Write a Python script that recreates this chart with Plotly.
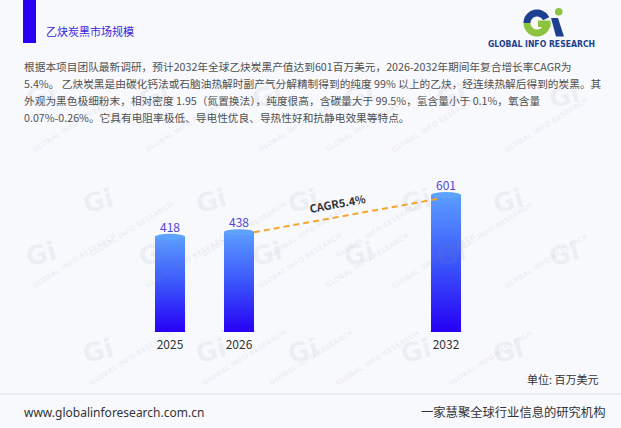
import math
import plotly.graph_objects as go

# ---------------- data ----------------
years = ["2025", "2026", "2032"]
year_pos = [0, 1, 4]          # category slots (2027-2031 left empty)
values = [418, 438, 601]
cagr_label = "CAGR5.4%"
unit_label = "单位: 百万美元"
title_text = "乙炔炭黑市场规模"
para_lines = [
    "根据本项目团队最新调研，预计2032年全球乙炔炭黑产值达到601百万美元，2026-2032年期间年复合增长率CAGR为",
    "5.4%。 乙炔炭黑是由碳化钙法或石脑油热解时副产气分解精制得到的纯度 99% 以上的乙炔，经连续热解后得到的炭黑。其",
    "外观为黑色极细粉末，相对密度 1.95（氮置换法），纯度很高，含碳量大于 99.5%，氢含量小于 0.1%，氧含量",
    "0.07%-0.26%。它具有电阻率极低、导电性优良、导热性好和抗静电效果等特点。",
]
footer_left = "www.globalinforesearch.com.cn"
footer_right = "一家慧聚全球行业信息的研究机构"

# ---------------- layout geometry ----------------
W, H = 621, 428
ML, MR, MT, MB = 101, 37, 150, 96
PW, PH = W - ML - MR, H - MT - MB
YMAX = 799
BAR_W = 0.435
FONT = "Noto Sans CJK SC, Noto Sans, sans-serif"
BG = "#f8f9fd"


def px(x):
    return (x - ML) / PW


def py(y):
    return (H - MB - y) / PH


def dy(pix):  # pixel height -> data units
    return pix * YMAX / PH


fig = go.Figure()
shapes = []
ann = []

# watermarks
wm_col = "rgba(140,140,150,0.11)"
rows = [(75, 20), (180, 77), (275, 20), (372, 77)]
for ry, x0 in rows:
    for k in range(6):
        cx = x0 + 113 * k
        if cx < 15 or cx > 585:
            continue
        ann.append(dict(x=px(cx), y=py(ry), xref="paper", yref="paper", text="<b>Gi</b>",
                        showarrow=False, font=dict(size=26, color=wm_col, family="Arial Black, DejaVu Sans"),
                        textangle=-15))
        ann.append(dict(x=px(cx + 8), y=py(ry + 18), xref="paper", yref="paper",
                        text="<b>GLOBAL INFO RESEARCH</b>", showarrow=False,
                        font=dict(size=7, color=wm_col, family="DejaVu Sans"), textangle=-32))

# base shadows under bars
for xc in year_pos:
    shapes.append(dict(type="circle", xref="x", yref="y", x0=xc - BAR_W * 0.6, x1=xc + BAR_W * 0.6,
                       y0=-dy(3.5), y1=dy(3.5), fillcolor="#dde5f4", line=dict(width=0), layer="below"))

# bars with vertical gradient
for xc, v in zip(year_pos, values):
    hw = BAR_W / 2
    fig.add_trace(go.Scatter(
        x=[xc - hw, xc + hw, xc + hw, xc - hw, xc - hw],
        y=[0, 0, v, v, 0], mode="lines", fill="toself",
        fillgradient=dict(type="vertical", colorscale=[[0, "#2600f6"], [0.5, "#3b55fb"], [1, "#5b9dff"]]),
        line=dict(width=0), hoverinfo="skip", showlegend=False))
    # rounded top cap
    shapes.append(dict(type="circle", xref="x", yref="y", x0=xc - hw, x1=xc + hw,
                       y0=v - dy(3), y1=v + dy(3), fillcolor="#5ea2ff", line=dict(width=0)))
    ann.append(dict(x=xc, y=v, xref="x", yref="y", text=str(v), showarrow=False, yanchor="bottom",
                    yshift=0, font=dict(size=12, color="#5144d8", family=FONT)))

# CAGR dashed line 2026 -> 2032
x_a = year_pos[1] + BAR_W / 2
y_a = values[1]
x_b = year_pos[2] - BAR_W * 0.28
y_b = values[2] * 0.972
fig.add_trace(go.Scatter(x=[x_a, x_b], y=[y_a, y_b], mode="lines",
                         line=dict(color="#f4a62a", width=2, dash="6px,4px"),
                         hoverinfo="skip", showlegend=False))
ang = -math.degrees(math.atan2((y_b - y_a) / YMAX * PH, (x_b - x_a) / 7 * PW))
ann.append(dict(x=(x_a + x_b) / 2 - 0.12, y=(y_a + y_b) / 2, xref="x", yref="y", text="<b>" + cagr_label + "</b>",
                showarrow=False, yshift=13, textangle=ang,
                font=dict(size=11, color="#333333", family=FONT)))

# header bar + title
shapes.append(dict(type="rect", xref="paper", yref="paper", x0=px(23), x1=px(36), y0=py(43), y1=py(0),
                   fillcolor="#2a00f2", line=dict(width=0)))
ann.append(dict(x=px(44), y=py(31), xref="paper", yref="paper", text=title_text, showarrow=False,
                xanchor="left", yanchor="middle", font=dict(size=11, color="#3a1ee0", family=FONT)))

# paragraph
for i, line in enumerate(para_lines):
    ann.append(dict(x=px(22), y=py(66 + 17.3 * i), xref="paper", yref="paper", text=line, showarrow=False,
                    xanchor="left", yanchor="middle", font=dict(size=10.7, color="#505050", family=FONT)))

# logo
def pathpts(pts):
    s = "M " + " L ".join(f"{px(a):.5f},{py(b):.5f}" for a, b in pts) + " Z"
    return s


def arc(cx, cy, R, r, t0, t1, n=24):
    outer = [(cx + R * math.cos(math.radians(t0 + (t1 - t0) * i / n)),
              cy - R * math.sin(math.radians(t0 + (t1 - t0) * i / n))) for i in range(n + 1)]
    inner = [(cx + r * math.cos(math.radians(t1 - (t1 - t0) * i / n)),
              cy - r * math.sin(math.radians(t1 - (t1 - t0) * i / n))) for i in range(n + 1)]
    return outer + inner


NAVY, GREEN = "#1d3f8f", "#8cc43f"
gcx, gcy = 537, 23
shapes.append(dict(type="path", xref="paper", yref="paper", path=pathpts(arc(gcx, gcy, 13.5, 6.5, 25, 180)),
                   fillcolor=NAVY, line=dict(width=0)))
shapes.append(dict(type="path", xref="paper", yref="paper", path=pathpts(arc(gcx, gcy, 13.5, 6.5, 180, 360)),
                   fillcolor=GREEN, line=dict(width=0)))
shapes.append(dict(type="rect", xref="paper", yref="paper", x0=px(538), x1=px(550.5), y0=py(27), y1=py(20.5),
                   fillcolor=GREEN, line=dict(width=0)))
shapes.append(dict(type="path", xref="paper", yref="paper",
                   path=pathpts([(551, 18), (558, 18), (564, 36.5), (556, 36.5)]),
                   fillcolor=NAVY, line=dict(width=0)))
shapes.append(dict(type="circle", xref="paper", yref="paper", x0=px(555), x1=px(562.5), y0=py(15.5), y1=py(8),
                   fillcolor=GREEN, line=dict(width=0)))
ann.append(dict(x=px(541.5), y=py(43.5), xref="paper", yref="paper", text="<b>GLOBAL INFO RESEARCH</b>",
                showarrow=False, xanchor="center", yanchor="middle",
                font=dict(size=8.6, color=NAVY, family="DejaVu Sans Condensed, Liberation Sans Narrow, sans-serif")))

# unit label
ann.append(dict(x=px(601), y=py(379), xref="paper", yref="paper", text=unit_label, showarrow=False,
                xanchor="right", yanchor="middle", font=dict(size=11, color="#333333", family=FONT)))

# footer
shapes.append(dict(type="line", xref="paper", yref="paper", x0=px(0), x1=px(W), y0=py(394), y1=py(394),
                   line=dict(color="#e2e4ea", width=1)))
ann.append(dict(x=px(22), y=py(412), xref="paper", yref="paper", text=footer_left, showarrow=False,
                xanchor="left", yanchor="middle", font=dict(size=12, color="#333333", family="Noto Sans, sans-serif")))
ann.append(dict(x=px(607), y=py(412), xref="paper", yref="paper", text=footer_right, showarrow=False,
                xanchor="right", yanchor="middle", font=dict(size=12.3, color="#333333", family=FONT)))

fig.update_layout(
    width=W, height=H, margin=dict(l=ML, r=MR, t=MT, b=MB),
    paper_bgcolor=BG, plot_bgcolor=BG,
    shapes=shapes, annotations=ann, showlegend=False,
    xaxis=dict(range=[-1, 6], tickmode="array", tickvals=year_pos, ticktext=years,
               showgrid=False, zeroline=False, showline=False, ticks="", ticklabelstandoff=4,
               tickfont=dict(size=12, color="#333333", family=FONT), fixedrange=True),
    yaxis=dict(range=[0, YMAX], visible=False, fixedrange=True),
)

fig.write_html("out.html", config={"displayModeBar": False},
               post_script="document.body.style.margin='0';document.body.style.background='" + BG + "';")
